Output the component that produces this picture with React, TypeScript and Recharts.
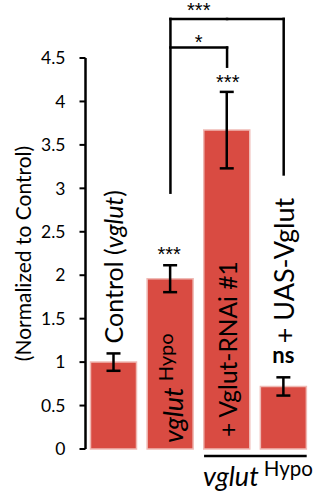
import React from 'react';
import { BarChart, Bar, XAxis, YAxis, ErrorBar, ReferenceLine, LabelList } from 'recharts';

const categories = ['Control', 'Hypo', 'RNAi', 'UAS'];
const means = [1.0, 1.96, 3.67, 0.72];
const sems = [0.1, 0.155, 0.44, 0.105];
const starLabels = ['', '***', '***', 'ns'];
const yTicks = [0, 0.5, 1, 1.5, 2, 2.5, 3, 3.5, 4, 4.5];
const yLabel = '(Normalized to Control)';
const genotype = 'vglut';
const allele = 'Hypo';
const controlPrefix = 'Control (';
const controlSuffix = ')';
const rnaiText = '+ Vglut-RNAi #1';
const rescueText = '+ UAS-Vglut';

// significance brackets (y in data units)
const outerTop = 4.95;
const outerLeftBottom = 2.95;
const outerRightBottom = 3.16;
const innerTop = 4.62;
const innerRightBottom = 4.4;
const outerStars = '***';
const innerStars = '*';
const groupLineY = -0.08;

const BAR_SIZE = 46;
const BAR_COLOR = '#d94b42';
const FONT = 'Lato, "Open Sans", sans-serif';
const STAR_FONT = '"Liberation Sans", Arial, sans-serif';

const data = categories.map((c, i) => ({ name: c, value: means[i], err: sems[i] }));

const rot = (px: number, py: number) => `rotate(-90 ${px} ${py})`;

function Stars({ x, y, label }: { x: number; y: number; label: string }) {
  return (
    <text x={x} y={y} textAnchor="middle" fontSize={20} fontFamily={STAR_FONT} fill="#000">
      {label}
    </text>
  );
}

function renderBarAnnotation(props: any) {
  const vb = props.viewBox && props.viewBox.width != null ? props.viewBox : props;
  const x = Number(vb.x);
  const y = Number(vb.y);
  const width = Number(vb.width);
  const height = Number(vb.height);
  let index = props.index;
  if (index == null) index = means.indexOf(Number(props.value));
  const cx = x + width / 2;
  const bottom = y + height;
  const pxPerUnit = height / means[index];
  const errTop = y - sems[index] * pxPerUnit;

  if (index === 0) {
    const px = cx + 10;
    const py = errTop - 10;
    return (
      <text x={px} y={py} transform={rot(px, py)} fontSize={25} fill="#000">
        {controlPrefix}
        <tspan fontStyle="italic">{genotype}</tspan>
        {controlSuffix}
      </text>
    );
  }
  if (index === 1) {
    const px = cx + 12.5;
    const py = bottom - 6;
    return (
      <g>
        <text x={px} y={py} transform={rot(px, py)} fontSize={27} fill="#000">
          <tspan fontStyle="italic">{genotype}</tspan>
          <tspan fontSize={20} dx={6} dy={-10}>{allele}</tspan>
        </text>
        <Stars x={cx - 1} y={errTop - 4.5} label={starLabels[index]} />
      </g>
    );
  }
  if (index === 2) {
    const px = cx + 10.5;
    const py = bottom - 12;
    return (
      <g>
        <text x={px} y={py} transform={rot(px, py)} fontSize={24.5} fill="#000">
          {rnaiText}
        </text>
        <Stars x={cx + 1} y={errTop - 3} label={starLabels[index]} />
      </g>
    );
  }
  const px = cx + 10.5;
  const py = errTop - 34;
  return (
    <g>
      <text x={px} y={py} transform={rot(px, py)} fontSize={27} fill="#000">
        {rescueText}
      </text>
      <text x={cx} y={errTop - 14} textAnchor="middle" fontSize={22} fontWeight="bold" fill="#000">
        {starLabels[index]}
      </text>
    </g>
  );
}

const lineStyle = { stroke: '#000', strokeWidth: 2.5, strokeLinecap: 'square' as const };

const starShape = (label: string, gap: number) => (p: any) => (
  <g>
    <line x1={p.x1} y1={p.y1} x2={p.x2} y2={p.y2} {...lineStyle} />
    <Stars x={(p.x1 + p.x2) / 2} y={p.y1 - gap} label={label} />
  </g>
);

const groupShape = (p: any) => (
  <g>
    <line x1={p.x1 - BAR_SIZE / 2} y1={p.y1} x2={p.x2 + BAR_SIZE / 2} y2={p.y2} stroke="#000" strokeWidth={2.5} />
    <text x={p.x1 - BAR_SIZE / 2 - 1} y={p.y1 + 30} fontSize={27} fill="#000">
      <tspan fontStyle="italic">{genotype}</tspan>
      <tspan fontSize={20.5} dx={5} dy={-10}>{allele}</tspan>
    </text>
  </g>
);

function YLabel(props: any) {
  const vb = props.viewBox || {};
  const px = Number(vb.x) + 31;
  const py = Number(vb.y) + Number(vb.height) / 2;
  return (
    <text x={px} y={py} transform={rot(px, py)} textAnchor="middle" fontSize={21} fill="#000">
      {yLabel}
    </text>
  );
}

export default function App() {
  return (
    <div style={{ position: 'absolute', left: 0, top: 0, width: 321, height: 494, background: '#fff', fontFamily: FONT }}>
      <BarChart
        width={321}
        height={494}
        data={data}
        margin={{ top: 58, right: 3, bottom: 45, left: 0 }}
        barSize={BAR_SIZE}
      >
        <XAxis
          dataKey="name"
          height={0}
          tick={false}
          tickLine={false}
          axisLine={{ stroke: '#000', strokeWidth: 2.5 }}
          padding={{ left: 0, right: 6 }}
        />
        <YAxis
          width={85.5}
          domain={[0, 4.5]}
          ticks={yTicks}
          interval={0}
          tickSize={6}
          tickMargin={14}
          axisLine={{ stroke: '#000', strokeWidth: 2.5 }}
          tickLine={{ stroke: '#000', strokeWidth: 2 }}
          tick={{ fill: '#000', fontSize: 17.5 }}
          label={{ content: (p: any) => <YLabel {...p} /> }}
        />
        <Bar dataKey="value" fill={BAR_COLOR} stroke="#efbab5" strokeWidth={1.5} isAnimationActive={false}>
          <ErrorBar dataKey="err" width={7} stroke="#000" strokeWidth={2.5} isAnimationActive={false} />
          <LabelList dataKey="value" content={renderBarAnnotation} />
        </Bar>
        <ReferenceLine
          ifOverflow="visible"
          segment={[{ x: 'Hypo', y: outerLeftBottom }, { x: 'Hypo', y: outerTop }]}
          stroke="#000"
          strokeWidth={2.5}
          strokeLinecap="square"
        />
        <ReferenceLine
          ifOverflow="visible"
          segment={[{ x: 'Hypo', y: outerTop }, { x: 'RNAi', y: outerTop }]}
          shape={starShape(outerStars, 1.5)}
        />
        <ReferenceLine
          ifOverflow="visible"
          segment={[{ x: 'RNAi', y: outerTop }, { x: 'UAS', y: outerTop }]}
          stroke="#000"
          strokeWidth={2.5}
          strokeLinecap="square"
        />
        <ReferenceLine
          ifOverflow="visible"
          segment={[{ x: 'UAS', y: outerRightBottom }, { x: 'UAS', y: outerTop }]}
          stroke="#000"
          strokeWidth={2.5}
          strokeLinecap="square"
        />
        <ReferenceLine
          ifOverflow="visible"
          segment={[{ x: 'Hypo', y: innerTop }, { x: 'RNAi', y: innerTop }]}
          shape={starShape(innerStars, -1)}
        />
        <ReferenceLine
          ifOverflow="visible"
          segment={[{ x: 'RNAi', y: innerRightBottom }, { x: 'RNAi', y: innerTop }]}
          stroke="#000"
          strokeWidth={2.5}
          strokeLinecap="square"
        />
        <ReferenceLine
          ifOverflow="visible"
          segment={[{ x: 'RNAi', y: groupLineY }, { x: 'UAS', y: groupLineY }]}
          shape={groupShape}
        />
      </BarChart>
    </div>
  );
}
